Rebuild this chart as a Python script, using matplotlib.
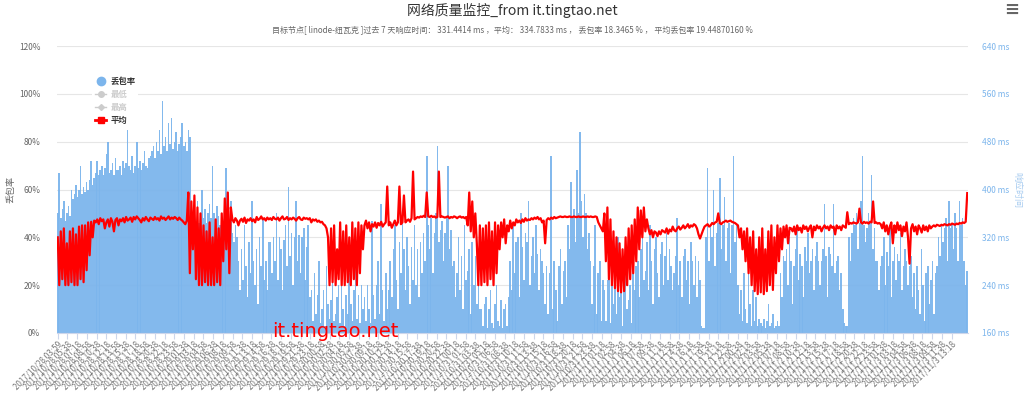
import numpy as np
import pandas as pd
import matplotlib
matplotlib.use("Agg")
import matplotlib.pyplot as plt
import matplotlib.dates as mdates
from matplotlib.lines import Line2D

plt.rcParams['font.family'] = ['Noto Sans CJK SC', 'DejaVu Sans']

# ---------------- data ----------------
# packet loss (%), bars
loss_pct = [
    50, 67, 48, 52, 55, 47, 50, 53, 49, 60,
    56, 58, 62, 57, 60, 70, 58, 61, 59, 63, 60, 64, 72, 62,
    65, 67, 72, 66, 68, 70, 66, 69, 75, 80, 67, 68, 71, 66, 73, 68,
    68, 70, 66, 72, 69, 71, 85, 70, 68, 74, 67, 70, 80, 69, 72, 68, 71, 76, 70, 69, 73,
    74, 76, 78, 73, 80, 76, 85, 75, 97, 78, 82, 76, 88, 79, 90, 77, 80, 84, 76, 79,
    82, 88, 78, 80, 76, 85, 82,
    48, 45, 52, 47, 55, 46, 50, 60, 48, 52, 46, 50, 54, 48, 70, 50, 47, 53, 49, 45, 48,
    42, 45, 69, 40, 44, 55, 42, 38, 45, 40,
    30, 18, 35, 22, 45, 28, 15, 38, 25, 55, 30, 20, 35, 12, 40, 28, 48, 22, 30, 18, 38,
    38, 25, 40, 30, 50, 22, 40, 35, 18, 39, 45, 28, 61, 32, 42, 20, 40, 55, 30, 41,
    25, 40, 44, 22, 36, 45, 15,
    18, 5, 25, 8, 16, 30, 4, 10, 18, 3, 28, 12, 6, 14, 22, 5, 8, 15, 20, 4,
    35, 10, 3, 16, 8, 25, 12, 5, 18, 30, 6, 16, 4, 20, 10,
    15, 5, 20, 10, 4, 47, 16, 6, 20, 30, 8, 54, 18, 5, 25, 10, 18,
    30, 15, 35, 45, 22, 10, 38, 25, 50, 35, 18, 40, 28, 12, 36, 22, 45, 20, 35, 15, 38, 25,
    42, 30, 74, 45, 35, 48, 25, 42, 50, 78, 38, 43, 47, 30, 42, 48, 70, 35, 43, 28,
    30, 15, 25, 40, 18, 32, 10, 45, 22, 26, 35, 8, 38, 20, 32, 12, 22, 10,
    10, 3, 12, 15, 2, 10, 18, 4, 2, 12, 20, 5, 3, 14, 2, 10, 12, 3, 15,
    30, 18, 45, 25, 38, 40, 15, 50, 36, 22, 42, 38, 55, 20, 32, 40, 25, 45, 33, 18, 35, 30,
    25, 12, 28, 8, 25, 74, 10, 30, 18, 5, 28, 35, 12, 26, 30, 15,
    45, 35, 63, 48, 52, 38, 68, 50, 84, 55, 40, 58, 50, 35, 42,
    30, 12, 28, 45, 8, 25, 30, 5, 22,
    18, 5, 22, 30, 4, 20, 12, 25, 8, 40, 15, 20, 3, 22, 35, 10, 14, 20, 4, 25, 18, 28,
    30, 15, 35, 42, 22, 26, 38, 18, 45, 30, 12, 35, 40, 25, 15, 33, 38, 20, 32, 42, 22, 35,
    28, 18, 25, 32, 48, 20, 30, 15, 32, 35, 22, 30, 12, 38, 30, 20, 32, 15, 30, 22,
    3, 2, 2,
    40, 69, 30, 45, 40, 60, 28, 42, 46, 65, 35, 45, 57, 30, 44, 46, 25, 45, 74, 38, 45,
    20, 8, 18, 5, 25, 10, 4, 30, 12, 3, 18, 5, 15, 3, 6,
    4, 3, 6, 2, 5, 12, 3, 4, 8, 2, 3, 5, 3,
    25, 15, 32, 30, 35, 20, 40, 30, 12, 28, 35, 45, 22, 33, 28, 15, 36, 30, 42, 25,
    30, 35, 18, 32, 38, 30, 20, 30, 35, 54, 32, 15, 36, 33, 28, 54, 25, 30, 32, 18, 25, 10,
    4, 3, 3,
    40, 30, 42, 48, 45, 50, 35, 46, 55, 74, 45, 38, 44, 50, 46, 66, 35, 44, 30,
    30, 18, 28, 32, 40, 20, 34, 28, 45, 15, 30, 36, 22, 33, 30, 42, 18, 28, 35, 30, 20, 28, 32, 15,
    25, 10, 28, 18, 8, 35, 20, 5, 25, 28, 12, 22, 30, 8, 25, 28,
    40, 32, 45, 38, 44, 48, 30, 55, 44, 46, 35, 50, 44, 30, 55, 45, 48, 30, 20, 26,
]

# average response time (ms), line
avg_ms = [
    320, 240, 330, 250, 335, 240, 310, 240, 330, 245, 335, 240, 325, 240, 338, 250, 340, 245,
    340, 265, 345, 290, 346, 320,
    348, 345, 350, 342, 352, 347, 350, 335, 345, 350,
    338, 352, 346, 330, 349, 352, 340, 350, 347, 352,
    345, 354, 348, 350, 353, 346, 354, 350, 355, 352,
    349, 345, 352, 348, 354, 350, 347, 353, 351, 349,
    354, 350, 352, 348, 355, 351, 353, 349, 352, 355,
    350, 353, 351, 354, 352, 349, 353, 350, 348, 345,
    342, 348,
    395, 260, 380, 300, 390, 250, 370, 240, 360, 240, 340, 245, 330, 240, 345,
    240, 320, 240, 350, 245, 335, 240, 360, 280, 385, 300, 395, 260, 370,
    350, 345, 352, 348, 340, 348, 351, 346, 353, 344,
    350, 348, 352, 347, 350, 345, 354, 349, 351, 355,
    350, 352, 348, 353, 350, 352, 349, 354, 351, 350,
    353, 348, 352, 355, 350, 351, 354, 349, 352, 350,
    353, 351, 348, 352, 354, 350, 349, 353, 351, 352,
    350, 352, 345, 350, 348, 350, 346, 348, 345, 346,
    342, 340, 335,
    320, 240, 335, 245, 340, 240, 300, 250, 345, 240, 330, 240,
    340, 245, 320, 240, 345, 250, 335, 240, 345, 260, 340, 300,
    340, 348, 335, 345, 330, 342, 338, 345, 336, 344, 340, 346, 338, 342, 345,
    405, 340, 345, 336, 342, 348, 340, 345, 405, 342, 345, 390,
    345, 348, 350, 346, 352, 430, 350, 352, 354, 353, 355, 354, 356, 354,
    395, 355, 354, 356, 354, 355, 353, 354, 430,
    354, 355, 354, 353, 354, 355, 352, 354, 353, 355, 354, 352, 354, 355, 353, 354, 352, 354,
    340, 395, 330, 380, 320, 360, 310,
    240, 340, 240, 335, 245, 340, 240, 345, 250, 330, 240, 345, 260,
    340, 300, 345, 320, 350, 310, 340, 330, 348, 335, 345, 340, 350, 345, 348,
    344, 350, 346, 352, 348, 350, 349, 352, 350, 353, 351, 354, 350, 352, 345, 348,
    310,
    349, 352, 350, 353, 351, 354, 352, 353, 354, 355, 354, 354, 355, 354, 354, 355, 354,
    354, 355, 354, 354, 355, 354, 354, 355, 354, 354, 355, 354, 355, 354, 354, 355, 354,
    345, 340, 335, 330,
    360, 280, 370, 250, 350, 240, 330, 235, 320, 230, 310, 228, 300, 230, 320,
    240, 335, 250, 340, 260, 350, 280, 370, 300, 365, 320, 370, 330, 350,
    335, 325, 332, 320, 330, 328, 322, 330, 325, 332, 330, 328, 335, 326, 333, 330, 338, 332,
    330, 335, 338, 333, 336, 340, 335, 338, 342, 336, 340, 338, 342, 340, 335, 325, 318,
    325, 332, 338, 340, 342, 338, 340, 344, 342, 345, 346, 360,
    344, 342, 345, 346, 348, 346, 347, 348, 346, 345, 344, 342,
    340, 320, 335, 300, 330, 280, 335, 260, 320, 240, 330, 230, 300, 225, 320, 228, 335, 225,
    300, 230, 330, 240, 340, 232, 320, 260, 340, 280, 335, 300, 338, 320, 340, 310, 336,
    335, 330, 338, 325, 340, 332, 336, 328, 340, 334, 338, 330, 336, 340, 320, 338, 332, 340, 335,
    338, 330, 336, 340, 335, 338, 332, 340, 336, 338, 325, 340, 335, 338, 332, 340, 338, 336,
    362, 342, 344, 343, 345, 344, 343, 345, 368, 345, 343, 346, 344, 345, 343, 346, 345, 380,
    344, 345, 343, 344,
    342, 335, 345, 330, 340, 325, 338, 345, 310, 340, 328, 345, 332, 340, 322, 338, 330, 345,
    320, 276, 335, 342, 330, 338, 325, 340, 335, 328, 340, 332, 338, 330, 340, 335, 338,
    340, 338, 341, 340, 339, 341, 340, 342, 341, 340, 342, 341, 343, 342, 341, 343, 342, 344,
    343, 345, 344, 346, 394,
]

period_start = "2017-10-28 03:59"
period_end = "2017-11-03 16:00"
first_tick = "2017-10-28 03:59"
tick_start = "2017-10-28 05:38"
n_more_ticks = 92

title = "网络质量监控_from it.tingtao.net"
subtitle = ("目标节点[ linode-纽瓦克 ]过去 7 天响应时间： 331.4414 ms ，平均： 334.7833 ms ，"
            " 丢包率 18.3465 % ， 平均丢包率 19.44870160 %")

# ---------------- figure ----------------
W, H = 1024, 398
L, R, T, B = 57, 968, 46, 333
fig = plt.figure(figsize=(W / 100, H / 100), dpi=100)
ax = fig.add_axes([L / W, 1 - B / H, (R - L) / W, (B - T) / H])
ax2 = ax.twinx()

t0 = pd.Timestamp(period_start)
t1 = pd.Timestamp(period_end)
x_loss = mdates.date2num(pd.date_range(t0, t1, periods=len(loss_pct)).to_pydatetime())
x_avg = mdates.date2num(pd.date_range(t0, t1, periods=len(avg_ms)).to_pydatetime())
bw = (x_loss[-1] - x_loss[0]) / (len(loss_pct) - 1)

BLUE = "#7cb5ec"
ax.bar(x_loss, loss_pct, width=bw * 1.05, color=BLUE, edgecolor="none", alpha=0.95, zorder=2)
ax2.plot(x_avg, avg_ms, color="#ff0000", lw=1.6, zorder=3)

xmin = x_loss[0] - bw / 2
xmax = x_loss[-1] + bw / 2
ax.set_xlim(xmin, xmax)
ax.set_ylim(0, 120)
ax2.set_ylim(160, 640)

# y ticks
ax.set_yticks(range(0, 121, 20))
ax.set_yticklabels([f"{v}%" for v in range(0, 121, 20)])
ax2.set_yticks(range(160, 641, 80))
ax2.set_yticklabels([f"{v} ms" for v in range(160, 641, 80)])
ax.tick_params(axis="y", length=0, labelsize=6, labelcolor="#666666", pad=12)
ax2.tick_params(axis="y", length=0, labelsize=6, labelcolor="#7cb5ec", pad=10)
ax.grid(axis="y", color="#e6e6e6", lw=0.8, zorder=0)
ax.set_axisbelow(True)

# x ticks
tick_times = [pd.Timestamp(first_tick)] + list(pd.date_range(tick_start, periods=n_more_ticks, freq="100min"))
tick_labels = [f"{t.year}/{t.month}/{t.day} {t.hour:02d}:{t.minute:02d}" for t in tick_times]
ax.set_xticks(mdates.date2num([t.to_pydatetime() for t in tick_times]))
ax.set_xticklabels(tick_labels, rotation=45, ha="right", va="top", rotation_mode="anchor")
ax.tick_params(axis="x", length=4, color="#ccd6eb", labelsize=5.8, labelcolor="#777777", pad=1)
ax2.tick_params(axis="x", length=0)

for a in (ax, ax2):
    for s in ("top", "left", "right"):
        a.spines[s].set_visible(False)
    a.spines["bottom"].set_color("#ccd6eb")
ax2.spines["bottom"].set_visible(False)

ax.set_ylabel("丢包率", fontsize=6.5, color="#666666")
ax.yaxis.set_label_coords(-(L - 15) / (R - L), 0.5)
ax2.set_ylabel("响应时间", fontsize=6.5, color="#a8ccf0", rotation=270, va="center")
ax2.yaxis.set_label_coords((1017 - L) / (R - L), 0.5)

# titles
fig.text(0.5, 1 - 11 / H, title, ha="center", va="center", fontsize=10, color="#333333")
fig.text(0.5, 1 - 30 / H, subtitle, ha="center", va="center", fontsize=5.8, color="#666666")
fig.text(1012 / W, 1 - 10 / H, "≡", ha="center", va="center", fontsize=13, color="#666666",
         family="DejaVu Sans", fontweight="bold")

# legend
handles = [
    Line2D([], [], ls="none", marker="o", ms=6, color=BLUE),
    Line2D([], [], ls="-", lw=1, marker="o", ms=4, color="#cccccc"),
    Line2D([], [], ls="-", lw=1, marker="D", ms=3, color="#cccccc"),
    Line2D([], [], ls="-", lw=2, marker="s", ms=5, color="#ff0000"),
]
labels = ["丢包率", "最低", "最高", "平均"]
leg = ax2.legend(handles, labels, loc="upper left", bbox_to_anchor=(88 / W, 1 - 70 / H),
                 bbox_transform=fig.transFigure, frameon=True, facecolor="white",
                 edgecolor="none", framealpha=1, fontsize=6, handlelength=1.4,
                 handletextpad=0.5, labelspacing=0.5, borderpad=0.3)
for txt, c in zip(leg.get_texts(), ["#333333", "#cccccc", "#cccccc", "#333333"]):
    txt.set_color(c)
    txt.set_fontweight("bold")
leg.set_zorder(10)

# watermark
fig.text(272 / W, 1 - 337 / H, "it.tingtao.net", ha="left", va="baseline",
         fontsize=14, color="#ff0000", family="DejaVu Sans")

fig.savefig("out.png", dpi=100)
